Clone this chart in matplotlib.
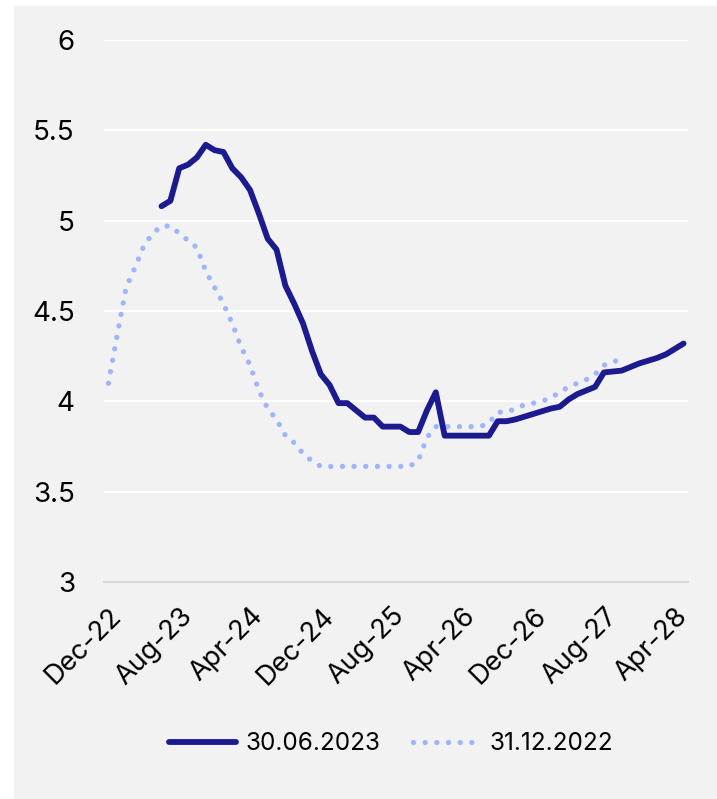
import matplotlib
matplotlib.use("Agg")
import matplotlib.pyplot as plt
from matplotlib.patches import Rectangle
import numpy as np

plt.rcParams['font.family'] = ['Inter', 'DejaVu Sans']

# monthly categories Dec-22 .. May-28
months = ['Dec-22', 'Jan-23', 'Feb-23', 'Mar-23', 'Apr-23', 'May-23', 'Jun-23', 'Jul-23',
          'Aug-23', 'Sep-23', 'Oct-23', 'Nov-23', 'Dec-23', 'Jan-24', 'Feb-24', 'Mar-24',
          'Apr-24', 'May-24', 'Jun-24', 'Jul-24', 'Aug-24', 'Sep-24', 'Oct-24', 'Nov-24',
          'Dec-24', 'Jan-25', 'Feb-25', 'Mar-25', 'Apr-25', 'May-25', 'Jun-25', 'Jul-25',
          'Aug-25', 'Sep-25', 'Oct-25', 'Nov-25', 'Dec-25', 'Jan-26', 'Feb-26', 'Mar-26',
          'Apr-26', 'May-26', 'Jun-26', 'Jul-26', 'Aug-26', 'Sep-26', 'Oct-26', 'Nov-26',
          'Dec-26', 'Jan-27', 'Feb-27', 'Mar-27', 'Apr-27', 'May-27', 'Jun-27', 'Jul-27',
          'Aug-27', 'Sep-27', 'Oct-27', 'Nov-27', 'Dec-27', 'Jan-28', 'Feb-28', 'Mar-28',
          'Apr-28', 'May-28']

# 30.06.2023 curve, Jun-23 .. May-28
jun23 = [5.08, 5.11, 5.29, 5.31, 5.35, 5.42, 5.39, 5.38, 5.29, 5.24,
         5.17, 5.04, 4.90, 4.84, 4.64, 4.54, 4.43, 4.28, 4.15, 4.09,
         3.99, 3.99, 3.95, 3.91, 3.91, 3.86, 3.86, 3.86, 3.83, 3.83,
         3.95, 4.05, 3.81, 3.81, 3.81, 3.81, 3.81, 3.81, 3.89, 3.89,
         3.90, 3.915, 3.93, 3.945, 3.96, 3.97, 4.01, 4.04, 4.06, 4.08,
         4.16, 4.165, 4.17, 4.19, 4.21, 4.225, 4.24, 4.26, 4.29, 4.32]
jun23_start = 6

# 31.12.2022 curve, Dec-22 .. Oct-27
dec22 = [4.10, 4.37, 4.63, 4.74, 4.86, 4.93, 4.97, 4.97, 4.93, 4.89,
         4.85, 4.72, 4.63, 4.54, 4.43, 4.30, 4.20, 4.06, 3.96, 3.90,
         3.81, 3.77, 3.71, 3.67, 3.64, 3.64, 3.64, 3.64, 3.64, 3.64,
         3.64, 3.64, 3.64, 3.64, 3.64, 3.67, 3.80, 3.86, 3.86, 3.86,
         3.86, 3.86, 3.86, 3.88, 3.94, 3.94, 3.96, 3.98, 3.99, 4.00,
         4.02, 4.05, 4.08, 4.10, 4.12, 4.15, 4.20, 4.22, 4.23]

navy = '#1c1a8f'
light = '#9db5fa'

fig = plt.figure(figsize=(7.17, 7.99), dpi=100)
fig.patch.set_facecolor('white')
fig.patches.append(Rectangle((14 / 717, 0), 1, 1 - 6 / 799, transform=fig.transFigure,
                             facecolor='#f2f2f2', edgecolor='none', zorder=-10))

ax = fig.add_axes([104 / 717, 1 - 582 / 799, 584 / 717, 542 / 799])
ax.set_facecolor('none')

x_jun = np.arange(jun23_start, jun23_start + len(jun23))
x_dec = np.arange(len(dec22))

ax.plot(x_dec, dec22, color=light, lw=3.8, linestyle=(0, (0.01, 2.2)),
        dash_capstyle='round', label='31.12.2022', zorder=3)
ax.plot(x_jun, jun23, color=navy, lw=4.2, solid_joinstyle='round',
        solid_capstyle='round', label='30.06.2023', zorder=4)

ax.set_xlim(-0.5, len(months) - 0.5)
ax.set_ylim(3, 6)
ax.set_yticks(np.arange(3, 6.01, 0.5))
ax.set_yticklabels(['3', '3.5', '4', '4.5', '5', '5.5', '6'])
ax.yaxis.grid(True, color='white', lw=1.5)
ax.set_axisbelow(True)
ax.tick_params(axis='y', length=0, pad=21, labelsize=20)

tick_pos = np.arange(0, len(months), 8)
ax.set_xticks(tick_pos)
ax.set_xticklabels([months[i] for i in tick_pos], rotation=45, ha='right',
                   rotation_mode='anchor', fontsize=19.5)
ax.tick_params(axis='x', length=0, pad=15)

for s in ['top', 'right', 'left']:
    ax.spines[s].set_visible(False)
ax.spines['bottom'].set_color('#d9d9d9')
ax.spines['bottom'].set_linewidth(1.5)

handles, labels = ax.get_legend_handles_labels()
fig.legend(handles[::-1], labels[::-1], loc='center', ncol=2,
           bbox_to_anchor=(391 / 717, 1 - 744 / 799), frameon=False,
           fontsize=17.5, handlelength=2.75, columnspacing=1.35, handletextpad=0.38)

fig.savefig('out.png', dpi=100, facecolor=fig.get_facecolor())
